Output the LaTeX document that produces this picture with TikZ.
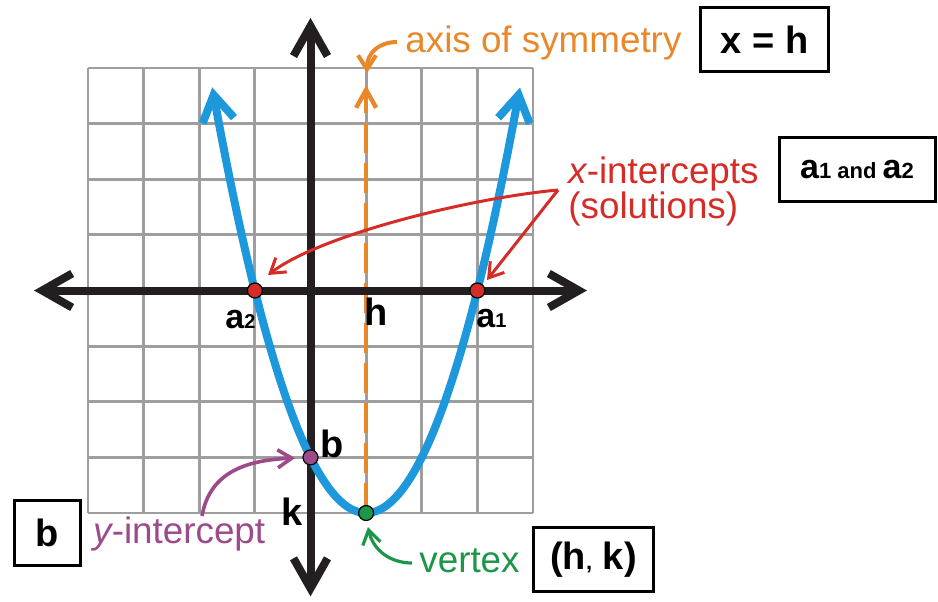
\documentclass[tikz,border=0pt]{standalone}
\usepackage{fontspec}
\setmainfont{Liberation Sans}
\usetikzlibrary{arrows.meta}
\definecolor{cblue}{RGB}{30,152,220}
\definecolor{corange}{RGB}{232,136,42}
\definecolor{cred}{RGB}{214,44,40}
\definecolor{cpurple}{RGB}{156,74,138}
\definecolor{cgreen}{RGB}{28,150,72}
\definecolor{cgray}{RGB}{158,158,158}
\definecolor{caxis}{RGB}{35,31,32}
\newcommand\txtsize{\fontsize{18.4}{22}\selectfont}
\newcommand\bsize{\fontsize{19}{22}\selectfont\bfseries}
\newcommand\asize{\fontsize{17}{20}\selectfont\bfseries}
\newcommand\ssize{\fontsize{11}{13}\selectfont\bfseries}
\newcommand\dsize{\fontsize{10}{12}\selectfont\bfseries}
\tikzset{
  axbarb/.tip={Straight Barb[length=15pt,width=17pt]},
  blbarb/.tip={Straight Barb[length=13pt,width=16pt]},
  orbarb/.tip={Straight Barb[length=9pt,width=10pt]},
  smbarb/.tip={Straight Barb[length=7pt,width=9pt]},
}
\begin{document}
\begin{tikzpicture}[x=0.5pt,y=-0.5pt,
  gridline/.style={draw=cgray,line width=1.4pt},
  axisline/.style={draw=caxis,line width=4pt,axbarb-axbarb},
  parab/.style={draw=cblue,line width=4pt,blbarb-blbarb},
  symline/.style={draw=corange,line width=2.2pt,dash pattern=on 15pt off 5pt,-orbarb},
  dot/.style={circle,draw=black,line width=0.6pt,minimum size=7.5pt,inner sep=0pt},
  txt/.style={anchor=base west,inner sep=0pt,font=\txtsize},
  box/.style={draw=black,line width=1.5pt,inner sep=0pt},
  oarrow/.style={draw=corange,line width=2pt,-smbarb},
  rarrow/.style={draw=cred,line width=1.5pt,-smbarb},
  parrow/.style={draw=cpurple,line width=1.8pt,-smbarb},
  garrow/.style={draw=cgreen,line width=1.6pt,-smbarb},
]
\useasboundingbox (0,0) rectangle (938,601);
% grid
\foreach \i in {0,...,8} {
  \draw[gridline] ({88+55.625*\i},68) -- ({88+55.625*\i},513);
  \draw[gridline] (88,{68+55.625*\i}) -- (533,{68+55.625*\i});
}
% graph
\begin{scope}[shift={(310.5,290.5)}]
\begin{scope}[x=27.8125pt,y=27.8125pt]
  \draw[symline] (1,-4) -- (1,3.69);
  \draw[axisline] (-4.97,0) -- (4.97,0);
  \draw[axisline] (0,-5.5) -- (0,4.9);
  \draw[parab] plot[domain=-1.766:3.766,samples=80,smooth] (\x,{(\x)*(\x)-2*(\x)-3});
  \node[dot,fill=cred] (A2) at (-1,0) {};
  \node[dot,fill=cred] (A1) at (3,0) {};
  \node[dot,fill=cpurple] (B) at (0,-3) {};
  \node[dot,fill=cgreen] (V) at (1,-4) {};
\end{scope}
\end{scope}
% graph labels
\node[txt] (la2) at (225,328) {\asize a\dsize 2};
\node[txt] (la1) at (476,327) {\asize a\dsize 1};
\node[txt] (lh) at (364,325) {\bsize h};
\node[txt] (lb) at (320,457) {\bsize b};
\node[txt] (lk) at (281,525) {\bsize k};
% texts
\node[txt,text=corange] (tsym) at (405,52) {axis of symmetry};
\node[txt,text=cred] (txi) at (568,183) {{\itshape x}-intercepts};
\node[txt,text=cred] (tsol) at (568,218) {(solutions)};
\node[txt,text=cpurple] (tyi) at (93,543) {{\itshape y}-intercept};
\node[txt,text=cgreen] (tvx) at (419,572) {vertex};
% boxes
\node[box,minimum width=64pt,minimum height=32pt] (bxh) at (764.5,39.5) {\bsize x = h};
\node[box,minimum width=78pt,minimum height=32pt] (bxa) at (857,169.5) {\asize a\ssize 1 and \asize a\ssize 2};
\node[box,minimum width=33pt,minimum height=32.5pt] (bxb) at (47.5,533) {\bsize b};
\node[box,minimum width=60pt,minimum height=32pt] (bxv) at (593.5,559.5) {\bsize (h{\fontsize{11}{12}\selectfont,} k)};
% connectors
\coordinate (symS) at (397,42);
\coordinate (symT) at (367,73);
\draw[oarrow] (symS) .. controls (380,42) and (367,52) .. (symT);
\coordinate (rv) at (558,190);
\coordinate (ra2) at (268,275);
\coordinate (ra1) at (487,280);
\draw[rarrow] (rv) .. controls (470,198) and (320,235) .. (ra2);
\draw[rarrow] (rv) -- (ra1);
\coordinate (ps) at (202,516);
\coordinate (pt) at (295,458);
\draw[parrow] (ps) .. controls (210,470) and (250,460) .. (pt);
\coordinate (gs) at (412,563);
\coordinate (gt) at (368,527);
\draw[garrow] (gs) .. controls (390,563) and (373,550) .. (gt);
\end{tikzpicture}
\end{document}
